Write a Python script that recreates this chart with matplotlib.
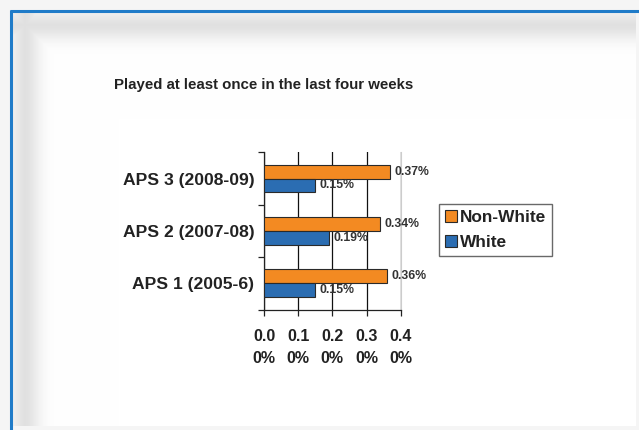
import numpy as np
import matplotlib
matplotlib.use("Agg")
import matplotlib.pyplot as plt
from matplotlib.patches import Patch

plt.rcParams['font.family'] = ['Liberation Sans', 'DejaVu Sans']

# Data
categories = ["APS 1 (2005-6)", "APS 2 (2007-08)", "APS 3 (2008-09)"]
non_white = [0.36, 0.34, 0.37]
white = [0.15, 0.19, 0.15]
x_ticks = [0.0, 0.1, 0.2, 0.3, 0.4]
x_tick_labels = ["0.0\n0%", "0.1\n0%", "0.2\n0%", "0.3\n0%", "0.4\n0%"]
title = "Played at least once in the last four weeks"

ORANGE = "#F38A22"
BLUE = "#2B6DB2"
EDGE = "#2a2a2a"

W, H = 639, 430
fig = plt.figure(figsize=(W / 100, H / 100), dpi=100)
fig.patch.set_facecolor("#F5F5F5")

# Page background with soft inner shadow and blue border
bg = fig.add_axes([0, 0, 1, 1], zorder=-10)
yy, xx = np.mgrid[0:H, 0:W] + 0.5
tx = xx - 12
ty = yy - 12

def shade(t):
    near = 0.06 + 0.06 * np.clip(t / 12, 0, 1)
    far = 0.12 * np.exp(-((t - 12) / 16) ** 2)
    return np.where(t < 12, near, far)

inner = (xx >= 12) & (yy >= 12) & (xx < 636) & (yy < 426)
d = np.maximum(shade(tx), shade(ty))
val = np.where(inner, 1 - d, 0.962)
img = np.dstack([val, val, val])
bg.imshow(img, extent=[0, W, H, 0], aspect="auto", interpolation="bilinear")
bg.plot([10.8, 10.8], [9.5, H], color="#1F7BC8", lw=2.2, solid_capstyle="butt")
bg.plot([9.7, W], [10.6, 10.6], color="#1F7BC8", lw=2.2, solid_capstyle="butt")
bg.set_xlim(0, W)
bg.set_ylim(H, 0)
bg.axis("off")

# Chart
ax = fig.add_axes([264 / W, 1 - 309.5 / H, (400.7 - 264) / W, (309.5 - 152.3) / H])
ax.set_facecolor("none")
y = np.arange(len(categories))
h = 0.267
ax.barh(y + h / 2, non_white, height=h, color=ORANGE, edgecolor=EDGE, linewidth=0.8, zorder=3, label="Non-White")
ax.barh(y - h / 2, white, height=h, color=BLUE, edgecolor=EDGE, linewidth=0.8, zorder=3, label="White")

for yi, v in zip(y, non_white):
    ax.annotate(f"{v:.2f}%", (v, yi + h / 2), xytext=(3, 0), textcoords="offset points",
                va="center", ha="left", fontsize=8.8, fontweight="bold", color="#333333", zorder=4)
for yi, v in zip(y, white):
    ax.annotate(f"{v:.2f}%", (v, yi - h / 2), xytext=(3, 0), textcoords="offset points",
                va="center", ha="left", fontsize=8.8, fontweight="bold", color="#333333", zorder=4)

ax.set_xlim(0, 0.4)
ax.set_ylim(-0.5, len(categories) - 0.5)
ax.set_xticks(x_ticks)
ax.set_xticklabels(x_tick_labels, fontsize=11.5, fontweight="bold", color="#222222", linespacing=1.55)
ax.tick_params(axis="x", direction="out", length=4, width=0.9, pad=10, color="#222222")

ax.set_yticks(np.arange(len(categories) + 1) - 0.5)
ax.set_yticklabels([])
ax.set_yticks(y, minor=True)
ax.set_yticklabels(categories, minor=True, fontsize=12.6, fontweight="bold", color="#222222")
ax.tick_params(axis="y", which="major", direction="out", length=4, width=0.9, color="#222222")
ax.tick_params(axis="y", which="minor", length=0, pad=7)

ax.grid(axis="x", color="#111111", linewidth=0.9, zorder=0)
ax.set_axisbelow(True)
for s in ["left", "bottom"]:
    ax.spines[s].set_color("#222222")
    ax.spines[s].set_linewidth(0.9)
ax.spines["top"].set_visible(False)
ax.spines["right"].set_color("#cccccc")
ax.spines["right"].set_linewidth(0.8)

fig.text(264 / W, 1 - 85 / H, title, ha="center", va="center", fontsize=10.8,
         fontweight="bold", color="#222222")

handles = [Patch(facecolor=ORANGE, edgecolor=EDGE, linewidth=0.8),
           Patch(facecolor=BLUE, edgecolor=EDGE, linewidth=0.8)]
leg = fig.legend(handles, ["Non-White", "White"], loc="upper left",
                 bbox_to_anchor=(439 / W, 1 - 204 / H), frameon=True, fancybox=False,
                 prop={"size": 12.4, "weight": "bold"}, handlelength=0.72, handleheight=0.72,
                 handletextpad=0.15, labelspacing=0.55, borderpad=0.35, borderaxespad=0)
leg.get_frame().set_edgecolor("#444444")
leg.get_frame().set_linewidth(1.0)
for t in leg.get_texts():
    t.set_color("#222222")

fig.savefig("out.png", dpi=100, facecolor=fig.get_facecolor())
